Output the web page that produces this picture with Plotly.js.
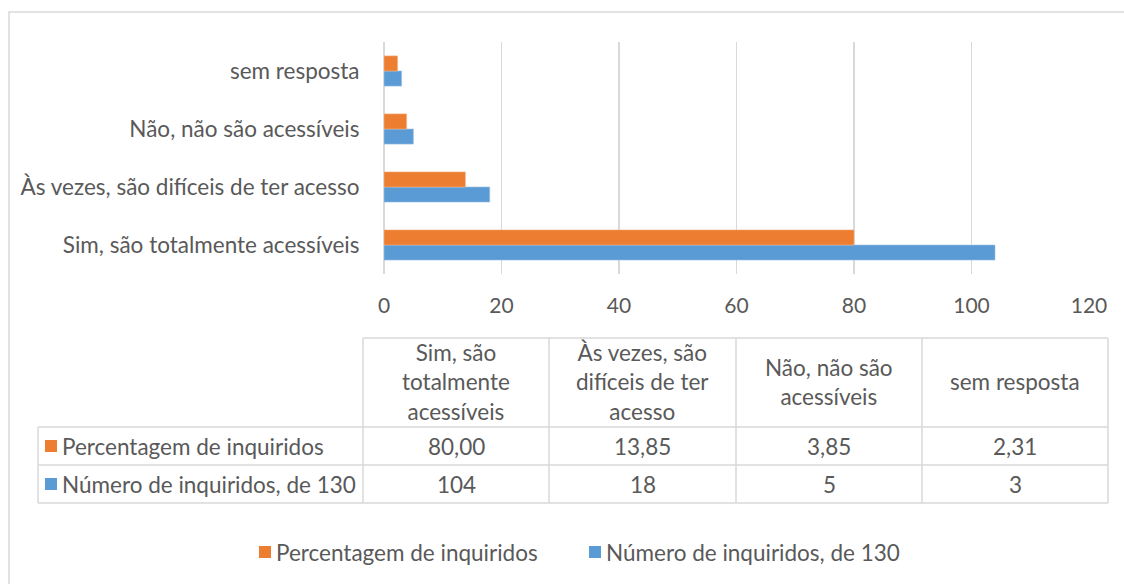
<!DOCTYPE html>
<html>
<head>
<meta charset="utf-8">
<script src="https://cdn.plot.ly/plotly-3.0.1.min.js"></script>
<style>html,body{margin:0;padding:0;background:#fff;}#chart{width:1124px;height:584px;}</style>
</head>
<body>
<div id="chart"></div>
<script>
// ---- data ----
const categories = ["Sim, são totalmente acessíveis", "Às vezes, são difíceis de ter acesso", "Não, não são acessíveis", "sem resposta"];
const tableHeaders = ["Sim, são<br>totalmente<br>acessíveis", "Às vezes, são<br>difíceis de ter<br>acesso", "Não, não são<br>acessíveis", "sem resposta"];
const percentName = "Percentagem de inquiridos";
const countName = "Número de inquiridos, de 130";
const percentValues = [80.00, 13.85, 3.85, 2.31];
const countValues = [104, 18, 5, 3];
const xTicks = [0, 20, 40, 60, 80, 100, 120];

// ---- style ----
const ORANGE = "#ED7D31", BLUE = "#5B9BD5", TXT = "#595959", GRID = "#D9D9D9";
const FONT = "Lato, 'Open Sans', sans-serif";
const FS = 22.5;
const W = 1124, H = 584;
const L = 384, R = 1089, T = 42, B = 274;
const xp = px => (px - L) / (R - L);
const yp = py => (B - py) / (B - T);

const fmt = v => v.toFixed(2).replace('.', ',');

const traces = [
  {type: 'bar', orientation: 'h', name: countName, y: categories, x: countValues,
   marker: {color: BLUE, line: {color: '#9DC3E6', width: 0.6}}, hoverinfo: 'x+y'},
  {type: 'bar', orientation: 'h', name: percentName, y: categories, x: percentValues,
   marker: {color: ORANGE, line: {color: '#F4B183', width: 0.6}}, hoverinfo: 'x+y'}
];

const shapes = [];
const annotations = [];
const line = (x0, y0, x1, y1) => shapes.push({type: 'line', xref: 'paper', yref: 'paper',
  x0: xp(x0), y0: yp(y0), x1: xp(x1), y1: yp(y1), line: {color: GRID, width: 1.5}});

// outer border
shapes.push({type: 'rect', xref: 'paper', yref: 'paper', x0: xp(9), y0: yp(12), x1: xp(1140), y1: yp(600),
  line: {color: GRID, width: 1.5}, fillcolor: 'rgba(0,0,0,0)', layer: 'below'});

// data table
const colX = [363, 549, 736, 922, 1108];
const rowY = [338, 427, 465, 503];
line(363, 338, 1108, 338);
line(38, 427, 1108, 427);
line(38, 465, 1108, 465);
line(38, 503, 1108, 503);
line(38, 427, 38, 503);
colX.forEach(x => line(x, 338, x, 503));

const cellFont = {family: FONT, size: FS, color: TXT};
tableHeaders.forEach((h, i) => {
  const cx = xp((colX[i] + colX[i + 1]) / 2);
  annotations.push({xref: 'paper', yref: 'paper', x: cx, y: yp((rowY[0] + rowY[1]) / 2 - 1),
    text: h, showarrow: false, font: cellFont, align: 'center', xanchor: 'center', yanchor: 'middle'});
  annotations.push({xref: 'paper', yref: 'paper', x: cx, y: yp((rowY[1] + rowY[2]) / 2),
    text: fmt(percentValues[i]), showarrow: false, font: cellFont, xanchor: 'center', yanchor: 'middle'});
  annotations.push({xref: 'paper', yref: 'paper', x: cx, y: yp((rowY[2] + rowY[3]) / 2),
    text: String(countValues[i]), showarrow: false, font: cellFont, xanchor: 'center', yanchor: 'middle'});
});
const keyItem = (name, col, sx, cy) => {
  shapes.push({type: 'rect', xref: 'paper', yref: 'paper', x0: xp(sx), x1: xp(sx + 12), y0: yp(cy - 6), y1: yp(cy + 6),
    line: {width: 0}, fillcolor: col});
  annotations.push({xref: 'paper', yref: 'paper', x: xp(sx + 15), y: yp(cy), text: name, showarrow: false,
    font: cellFont, xanchor: 'left', yanchor: 'middle'});
};
keyItem(percentName, ORANGE, 45, (rowY[1] + rowY[2]) / 2);
keyItem(countName, BLUE, 45, (rowY[2] + rowY[3]) / 2);
// legend below
keyItem(percentName, ORANGE, 259, 552);
keyItem(countName, BLUE, 589, 552);

const layout = {
  width: W, height: H,
  margin: {l: L, r: W - R, t: T, b: H - B, pad: 0, autoexpand: false},
  paper_bgcolor: '#fff', plot_bgcolor: '#fff',
  font: {family: FONT, color: TXT, size: FS},
  barmode: 'group', bargap: 0.48, bargroupgap: 0,
  xaxis: {range: [0, 120], tickvals: xTicks, ticktext: xTicks.map(String), showgrid: true, gridcolor: GRID, gridwidth: 1.5,
    zeroline: true, zerolinecolor: GRID, zerolinewidth: 1.5, showline: false, automargin: false,
    ticks: 'outside', ticklen: 13, tickcolor: 'rgba(0,0,0,0)', tickfont: {family: FONT, size: 21, color: TXT}, fixedrange: true},
  yaxis: {type: 'category', categoryorder: 'array', categoryarray: categories, showgrid: false, zeroline: false, showline: false,
    automargin: false,
    ticks: 'outside', ticklen: 19, tickcolor: 'rgba(0,0,0,0)', tickfont: {family: FONT, size: FS, color: TXT}, fixedrange: true},
  showlegend: false,
  shapes: shapes,
  annotations: annotations
};

Plotly.newPlot('chart', traces, layout, {displayModeBar: false, staticPlot: true});
</script>
</body>
</html>
